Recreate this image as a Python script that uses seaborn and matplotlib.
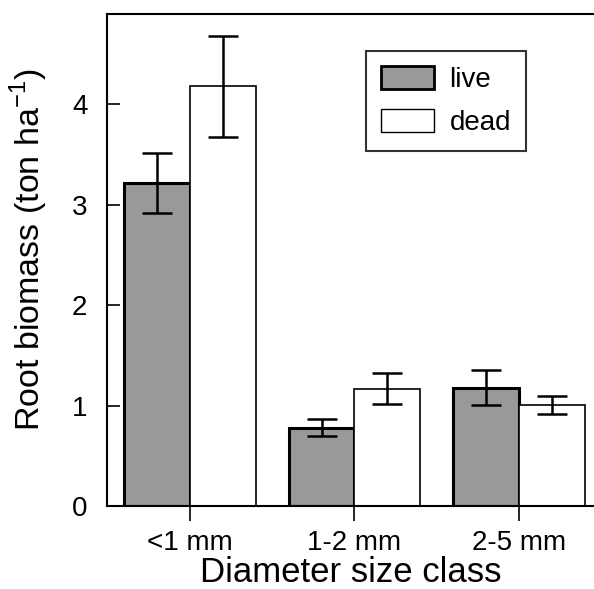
import pandas as pd
import seaborn as sns
import matplotlib.pyplot as plt
from matplotlib.patches import Patch

# values
size_class = ["<1 mm", "1-2 mm", "2-5 mm"]
live = [3.22, 0.78, 1.18]
dead = [4.18, 1.17, 1.01]
live_err = [0.30, 0.085, 0.17]
dead_err = [0.50, 0.155, 0.09]

df = pd.DataFrame({
    "size": size_class * 2,
    "biomass": live + dead,
    "status": ["live"] * 3 + ["dead"] * 3,
})

sns.set_style("ticks")
plt.rcParams["font.family"] = ["Liberation Sans", "DejaVu Sans"]
plt.rcParams["mathtext.fontset"] = "custom"
plt.rcParams["mathtext.rm"] = "Liberation Sans"
plt.rcParams["text.color"] = "black"
plt.rcParams["axes.labelcolor"] = "black"
plt.rcParams["xtick.color"] = "black"
plt.rcParams["ytick.color"] = "black"

fig = plt.figure(figsize=(5.94, 5.89), dpi=100)
ax = fig.add_axes([0.180, 0.141, 0.820, 0.835])

sns.barplot(data=df, x="size", y="biomass", hue="status", order=size_class,
            hue_order=["live", "dead"], palette=["#999999", "white"],
            errorbar=None, width=0.8, saturation=1, legend=False, ax=ax)

# edges + error bars per hue level
for cont, errs, lw in zip(ax.containers, [live_err, dead_err], [2.2, 1.2]):
    for bar, e in zip(cont, errs):
        bar.set_edgecolor("black")
        bar.set_linewidth(lw)
        xc = bar.get_x() + bar.get_width() / 2
        ax.errorbar(xc, bar.get_height(), yerr=e, color="black",
                    elinewidth=1.8, capsize=11, capthick=1.8, zorder=5)

ax.set_xlim(-0.505, 2.456)
ax.set_ylim(0, 4.9)
ax.set_yticks([0, 1, 2, 3, 4])
ax.tick_params(axis="y", direction="in", length=9, width=1.2, labelsize=20, pad=14)
ax.tick_params(axis="x", direction="out", length=11, width=1.2, labelsize=20, pad=6)
for s in ["left", "top", "bottom"]:
    ax.spines[s].set_linewidth(1.5)
    ax.spines[s].set_color("black")
ax.spines["right"].set_visible(False)

ax.set_xlabel("Diameter size class", fontsize=25, labelpad=0)
ax.set_ylabel(r"Root biomass (ton ha$^{\mathregular{-1}}$)", fontsize=24.5)
ax.yaxis.set_label_coords(-0.117, 0.522)

handles = [Patch(facecolor="#999999", edgecolor="black", linewidth=2.0, label="live"),
           Patch(facecolor="white", edgecolor="black", linewidth=1.0, label="dead")]
leg = ax.legend(handles=handles, loc="upper left", bbox_to_anchor=(0.532, 0.925),
                borderaxespad=0, fontsize=20, frameon=True, fancybox=False,
                handlelength=1.9, handleheight=0.9, labelspacing=0.55,
                handletextpad=0.55, borderpad=0.55)
leg.get_frame().set_edgecolor("black")
leg.get_frame().set_linewidth(1.5)

fig.savefig("out.png", dpi=100)
